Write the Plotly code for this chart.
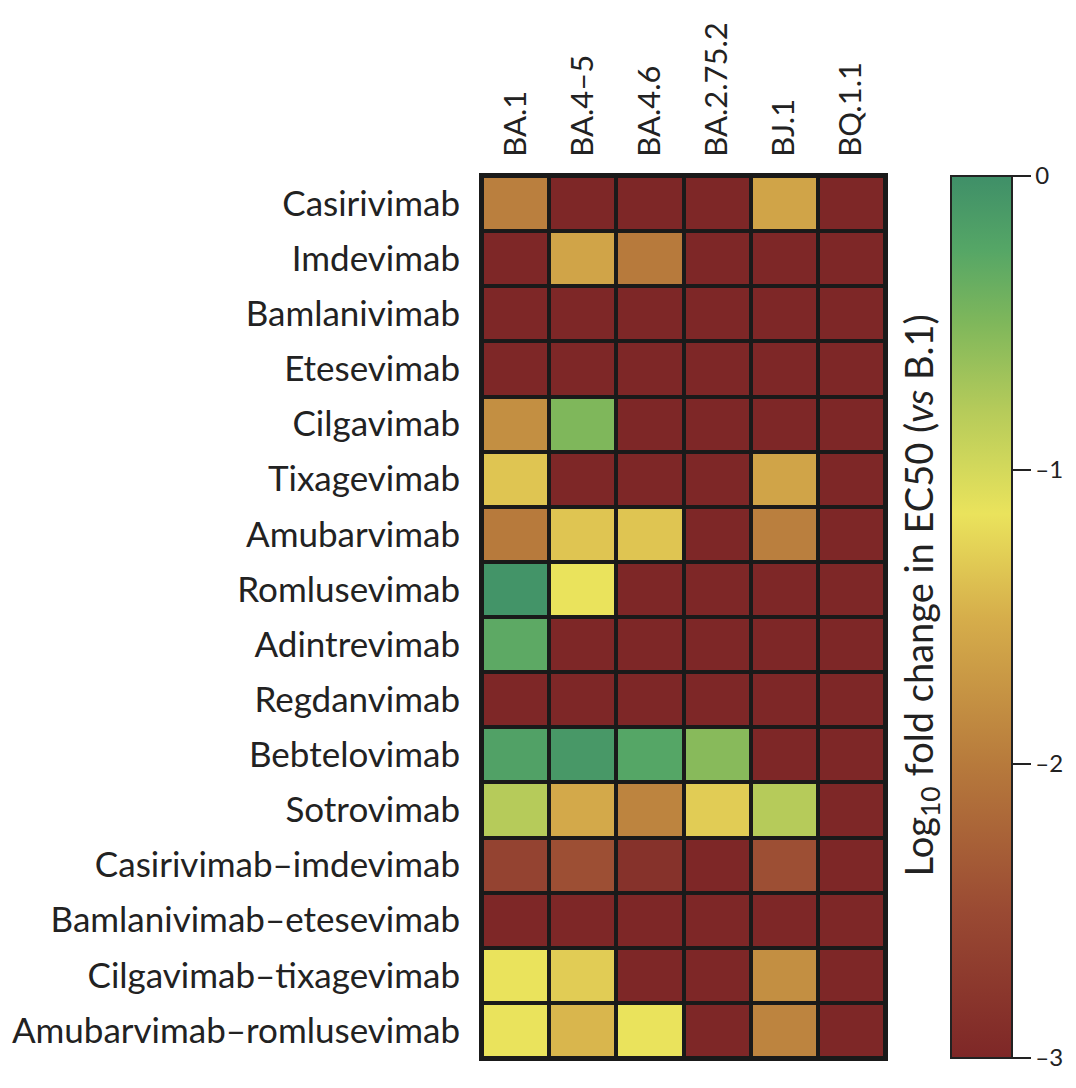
import plotly.graph_objects as go

variants = ["BA.1", "BA.4–5", "BA.4.6", "BA.2.75.2", "BJ.1", "BQ.1.1"]
antibodies = [
    "Casirivimab", "Imdevimab", "Bamlanivimab", "Etesevimab", "Cilgavimab",
    "Tixagevimab", "Amubarvimab", "Romlusevimab", "Adintrevimab", "Regdanvimab",
    "Bebtelovimab", "Sotrovimab", "Casirivimab–imdevimab", "Bamlanivimab–etesevimab",
    "Cilgavimab–tixagevimab", "Amubarvimab–romlusevimab",
]
log_fold = [
    [-1.95, -3, -3, -3, -1.6, -3],
    [-3, -1.6, -2.0, -3, -3, -3],
    [-3, -3, -3, -3, -3, -3],
    [-3, -3, -3, -3, -3, -3],
    [-1.8, -0.5, -3, -3, -3, -3],
    [-1.35, -3, -3, -3, -1.6, -3],
    [-2.0, -1.35, -1.35, -3, -1.95, -3],
    [-0.05, -1.15, -3, -3, -3, -3],
    [-0.3, -3, -3, -3, -3, -3],
    [-3, -3, -3, -3, -3, -3],
    [-0.2, -0.1, -0.25, -0.55, -3, -3],
    [-0.8, -1.55, -1.9, -1.3, -0.8, -3],
    [-2.6, -2.45, -2.85, -3, -2.45, -3],
    [-3, -3, -3, -3, -3, -3],
    [-1.15, -1.3, -3, -3, -1.8, -3],
    [-1.15, -1.45, -1.15, -3, -1.9, -3],
]
cbar_ticks = [0, -1, -2, -3]
cbar_ticktext = ["0", "–1", "–2", "–3"]

# colour stops: z value -> colour (z from -3 to 0)
stops = [
    (-3.0, "#7e2727"),
    (-2.5, "#9a4a33"),
    (-2.0, "#b77a3c"),
    (-1.5, "#d6ae4b"),
    (-1.15, "#eae35c"),
    (-0.8, "#b6cb5a"),
    (-0.5, "#7fb75b"),
    (-0.25, "#55a666"),
    (0.0, "#3f8f68"),
]
colorscale = [[(z + 3) / 3, c] for z, c in stops]

font_family = "Lato, 'Open Sans', sans-serif"

fig = go.Figure(
    go.Heatmap(
        z=log_fold,
        x=variants,
        y=antibodies,
        zmin=-3,
        zmax=0,
        colorscale=colorscale,
        xgap=4,
        ygap=4,
        hoverongaps=False,
        colorbar=dict(
            x=1.165,
            xanchor="left",
            y=0.5,
            yanchor="middle",
            len=1,
            lenmode="fraction",
            thickness=61,
            xpad=0,
            ypad=0,
            outlinewidth=2,
            outlinecolor="#222",
            tickvals=cbar_ticks,
            ticktext=cbar_ticktext,
            ticks="outside",
            ticklen=18,
            tickwidth=2,
            tickcolor="#222",
            tickfont=dict(size=24, color="#222", family=font_family),
        ),
    )
)

fig.update_layout(
    width=1076,
    height=1088,
    margin=dict(l=474, r=199, t=168, b=38, autoexpand=False),
    paper_bgcolor="white",
    plot_bgcolor="#1a1a1a",
    font=dict(family=font_family, color="#222"),
    xaxis=dict(
        side="top",
        tickangle=-90,
        tickfont=dict(size=31, color="#222"),
        showgrid=False,
        zeroline=False,
        ticks="",
        ticklabelstandoff=10,
        showline=True,
        linecolor="#1a1a1a",
        linewidth=3,
        mirror=True,
    ),
    yaxis=dict(
        autorange="reversed",
        tickfont=dict(size=35, color="#222"),
        showgrid=False,
        zeroline=False,
        ticks="",
        ticklabelstandoff=12,
        showline=True,
        linecolor="#1a1a1a",
        linewidth=3,
        mirror=True,
    ),
    annotations=[
        dict(
            text="Log<sub>10</sub> fold change in EC50 (<i>vs</i> B.1)",
            xref="paper",
            yref="paper",
            x=1.088,
            y=0.525,
            xanchor="center",
            yanchor="middle",
            textangle=-90,
            showarrow=False,
            font=dict(size=38, color="#222", family=font_family),
        )
    ],
)

fig.write_html("out.html")
